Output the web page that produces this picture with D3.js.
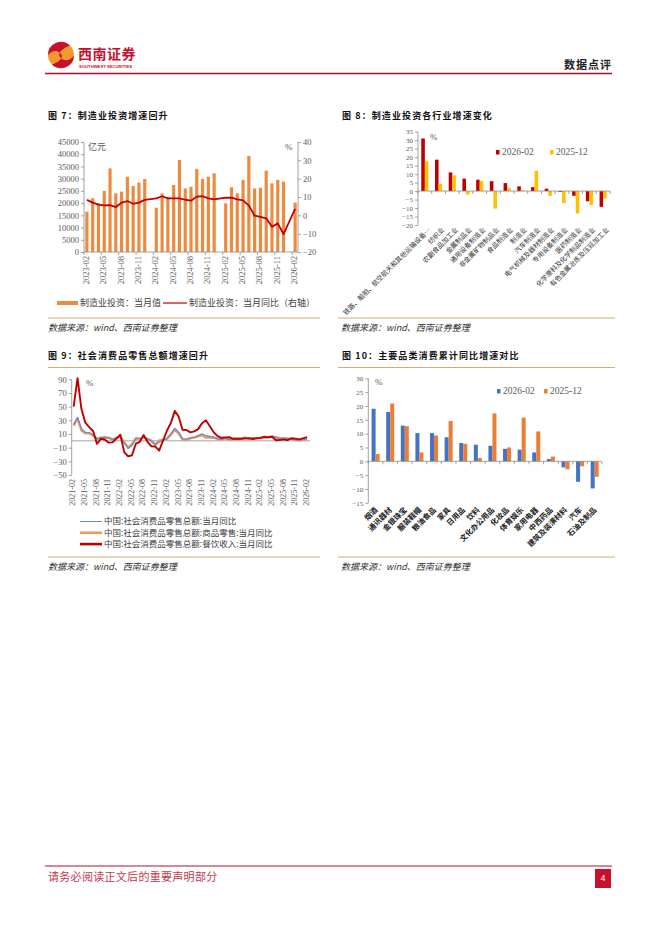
<!DOCTYPE html>
<html><head><meta charset="utf-8">
<script src="https://cdn.jsdelivr.net/npm/d3@7"></script>
<style>body{margin:0;background:#fff}svg{display:block}</style>
</head><body>
<svg id="page" width="662" height="936"></svg>
<script>
// ---------- DATA ----------
// Figure 7: manufacturing investment (monthly value, 100m yuan) and YoY (%)
const c7Months = ["2023-02","2023-03","2023-04","2023-05","2023-06","2023-07","2023-08","2023-09","2023-10","2023-11","2023-12",
  "2024-01","2024-02","2024-03","2024-04","2024-05","2024-06","2024-07","2024-08","2024-09","2024-10","2024-11","2024-12",
  "2025-01","2025-02","2025-03","2025-04","2025-05","2025-06","2025-07","2025-08","2025-09","2025-10","2025-11","2025-12",
  "2026-01","2026-02"];
const c7Value = [16500,22000,19900,25000,34200,24000,24700,30800,27000,28400,29900,
  null,18100,24000,22500,27400,37600,26000,26700,34000,29900,30800,32200,
  null,19900,26500,24000,29500,39300,26000,26300,33300,28100,29500,28800,
  null,20200];
const c7Yoy = [8.4,6.9,5.8,5.4,5.6,4.5,6.9,7.8,6.3,6.9,8.4,
  null,9.3,10.4,9.3,9.3,9.3,8.5,8.0,10.2,10.4,9.3,8.7,
  null,9.6,9.6,8.7,8.2,5.3,-0.2,-0.9,-1.6,-6.2,-4.4,-10.2,
  null,3.5];
const c7TickLeft = [0,5000,10000,15000,20000,25000,30000,35000,40000,45000];
const c7TickRight = [-20,-10,0,10,20,30,40];
const c7Legend = ["制造业投资：当月值","制造业投资：当月同比（右轴）"];

// Figure 8: manufacturing investment growth by industry (%)
const c8Cats = ["铁路、船舶、航空航天和其他运输设备…","纺织业","农副食品加工业","金属制品业","通用设备制造业",
  "非金属矿物制品业","食品制造业","制造业","汽车制造业","电气机械及器材制造业","专用设备制造业","医药制造业",
  "化学原料及化学制品制造业","有色金属冶炼及压延加工业"];
const c8Feb26 = [31.0,18.5,11.0,7.3,6.7,5.8,4.7,2.8,2.3,1.4,-0.5,-2.8,-6.0,-9.3];
const c8Dec25 = [17.5,4.3,9.2,-2.0,6.0,-10.3,2.0,0.6,12.0,-2.8,-7.0,-13.2,-8.2,-4.3];
const c8Ticks = [-20,-15,-10,-5,0,5,10,15,20,25,30,35];
const c8Legend = ["2026-02","2025-12"];

// Figure 9: retail sales YoY (%)
const c9Months = ["2021-02","2021-03","2021-04","2021-05","2021-06","2021-07","2021-08","2021-09","2021-10","2021-11","2021-12",
  "2022-01","2022-02","2022-03","2022-04","2022-05","2022-06","2022-07","2022-08","2022-09","2022-10","2022-11","2022-12",
  "2023-01","2023-02","2023-03","2023-04","2023-05","2023-06","2023-07","2023-08","2023-09","2023-10","2023-11","2023-12",
  "2024-01","2024-02","2024-03","2024-04","2024-05","2024-06","2024-07","2024-08","2024-09","2024-10","2024-11","2024-12",
  "2025-01","2025-02","2025-03","2025-04","2025-05","2025-06","2025-07","2025-08","2025-09","2025-10","2025-11","2025-12",
  "2026-01","2026-02"];
const c9Total = [24,34.2,17.7,12.4,12.1,8.5,2.5,4.4,4.9,3.9,1.7,
  null,6.7,-3.5,-11.1,-6.7,3.1,2.7,5.4,2.5,-0.5,-5.9,-1.8,
  null,3.5,10.6,18.4,12.7,3.1,2.5,4.6,5.5,7.6,10.1,7.4,
  null,5.5,3.1,2.3,3.7,2.0,2.7,2.1,3.2,4.8,3.0,3.7,
  null,4.0,5.9,5.1,6.4,4.8,3.7,3.4,3.0,2.9,1.3,0.9,
  null,2.8];
const c9Goods = [22,32.8,15.1,10.9,11.1,7.9,3.3,4.5,5.2,4.7,2.1,
  null,6.5,-1.9,-9.7,-5.0,4.0,3.2,5.1,3.0,0.5,-5.6,0.5,
  null,2.9,9.1,15.9,10.5,1.7,1.0,3.7,4.6,6.5,8.0,4.8,
  null,4.6,2.7,2.0,3.6,1.6,2.7,2.0,3.3,5.0,2.8,3.9,
  null,3.9,5.9,5.1,6.5,5.3,4.0,3.6,3.3,2.8,1.0,0.7,
  null,2.5];
const c9Catering = [50,91.6,46.4,26.6,20.0,14.3,-4.5,3.1,2.0,-2.7,-2.2,
  null,8.9,-16.4,-22.7,-21.1,-4.0,-1.5,8.4,-1.7,-8.1,-8.4,-14.1,
  null,15.1,26.3,43.8,35.1,16.1,15.8,12.4,13.8,17.1,25.8,30.0,
  null,12.5,6.9,4.4,5.0,5.4,3.0,3.3,3.1,3.2,4.0,2.7,
  null,4.3,5.6,5.2,5.9,0.9,1.1,2.1,0.9,3.8,3.2,2.2,
  null,5.5];
const c9Ticks = [-50,-30,-10,10,30,50,70,90];
const c9Legend = ["中国:社会消费品零售总额:当月同比","中国:社会消费品零售总额:商品零售:当月同比","中国:社会消费品零售总额:餐饮收入:当月同比"];

// Figure 10: cumulative YoY by category (%)
const c10Cats = ["烟酒","通讯器材","金银珠宝","服装鞋帽","粮油食品","家具","日用品","饮料","文化办公用品","化妆品",
  "体育娱乐","家用电器","中西药品","建筑及装潢材料","汽车","石油及制品"];
const c10Feb26 = [19.0,17.8,12.9,10.2,10.2,8.7,6.6,6.0,5.6,4.5,4.2,3.2,0.8,-2.2,-7.4,-9.8];
const c10Dec25 = [2.6,20.9,12.7,3.2,9.3,14.6,6.3,1.2,17.3,5.0,15.8,10.8,1.7,-2.9,-1.8,-5.6];
const c10Ticks = [-15,-10,-5,0,5,10,15,20,25,30];
const c10Legend = ["2026-02","2025-12"];

// ---------- STYLE ----------
const CJK = '"Noto Sans CJK SC","Noto Sans",sans-serif';
const SERIF = '"Liberation Serif","Times New Roman",serif';
const AXIS = '#8c8c8c', TXT = '#595959', GOLD = '#CFAE72';
const svg = d3.select('#page');

function hline(x1, x2, y, color, w) {
  svg.append('line').attr('x1', x1).attr('x2', x2).attr('y1', y).attr('y2', y)
    .attr('stroke', color).attr('stroke-width', w);
}
function text(x, y, s, o) {
  o = o || {};
  const t = svg.append('text').attr('x', x).attr('y', y).text(s)
    .attr('font-family', o.ff || CJK).attr('font-size', o.fs || 9)
    .attr('fill', o.fill || '#000').attr('dominant-baseline', 'middle')
    .attr('text-anchor', o.anchor || 'start');
  if (o.fw) t.attr('font-weight', o.fw);
  if (o.ls) t.attr('letter-spacing', o.ls);
  if (o.italic) t.attr('font-style', 'italic');
  return t;
}
function yAxis(scale, ticks, x, side, fs, fmt) {
  const ax = (side === 'left' ? d3.axisLeft(scale) : d3.axisRight(scale))
    .tickValues(ticks).tickSize(3).tickPadding(2).tickFormat(fmt || (d => d < 0 ? '−' + Math.abs(d) : d));
  const g = svg.append('g').attr('transform', `translate(${x},0)`).call(ax);
  g.selectAll('path,line').attr('stroke', AXIS).attr('stroke-width', 0.8);
  g.select('.domain').attr('d', `M0,${scale.range()[0]}V${scale.range()[1]}`);
  g.selectAll('text').attr('font-family', SERIF).attr('font-size', fs).attr('fill', TXT);
  return g;
}

// ---------- HEADER ----------
const logo = svg.append('g').attr('transform', 'translate(61,55)');
logo.append('circle').attr('r', 13).attr('fill', '#F29A2E');
logo.append('path').attr('d', 'M-13,0 A13,13 0 0 1 9,-9.5 C2,-7 -4,-2 -1,2 C3,7 8,6 13,1 A13,13 0 0 1 -9,9.5 C-2,7 3,3 0,-1 C-4,-6 -9,-4 -13,0 Z')
  .attr('fill', '#C8102E');
text(78, 55, '西南证券', {fs: 14, fw: 700, fill: '#C8102E', ls: 0.5});
text(79, 66.5, 'SOUTHWEST SECURITIES', {ff: 'Liberation Sans', fs: 4.2, fill: '#C8102E', fw: 700});
text(612, 66, '数据点评', {fs: 11, fw: 700, fill: '#222', anchor: 'end', ls: 1});
hline(45, 612, 73.5, '#A8102A', 1.3);

// ---------- FOOTER ----------
hline(45, 612, 866, '#B0102C', 1);
text(48, 878, '请务必阅读正文后的重要声明部分', {fs: 11, fill: '#C0394E', ls: 0.3});
svg.append('rect').attr('x', 595).attr('y', 869).attr('width', 16).attr('height', 19).attr('fill', '#C8102E');
text(603, 879, '4', {ff: 'Liberation Sans', fs: 9, fill: '#fff', anchor: 'middle'});

// ---------- TITLES / SOURCES ----------
const titleOpt = {fs: 9, fw: 700, fill: '#111', ls: 1.1};
text(48, 117, '图 7：制造业投资增速回升', titleOpt);
text(342, 117, '图 8：制造业投资各行业增速变化', titleOpt);
text(48, 357, '图 9：社会消费品零售总额增速回升', titleOpt);
text(342, 357, '图 10：主要品类消费累计同比增速对比', titleOpt);
hline(48, 320, 367.5, GOLD, 1);
hline(338, 615, 367.5, GOLD, 1);
hline(48, 320, 318, GOLD, 1);
hline(338, 615, 318, GOLD, 1);
hline(48, 320, 557, GOLD, 1);
hline(338, 615, 557, GOLD, 1);
const srcOpt = {fs: 9, fill: '#333', italic: true};
text(48, 329, '数据来源：wind、西南证券整理', srcOpt);
text(341, 329, '数据来源：wind、西南证券整理', srcOpt);
text(48, 568, '数据来源：wind、西南证券整理', srcOpt);
text(341, 568, '数据来源：wind、西南证券整理', srcOpt);

// ---------- FIGURE 7 ----------
{
  const x = d3.scaleBand().domain(c7Months).range([84, 298]).paddingInner(0.45).paddingOuter(0.225);
  const yL = d3.scaleLinear().domain([0, 45000]).range([252, 142]);
  const yR = d3.scaleLinear().domain([-20, 40]).range([252, 142]);
  const rows = c7Months.map((m, i) => ({m, v: c7Value[i], y: c7Yoy[i]}));
  svg.append('g').selectAll('rect').data(rows.filter(d => d.v != null)).join('rect')
    .attr('x', d => x(d.m)).attr('width', x.bandwidth())
    .attr('y', d => yL(d.v)).attr('height', d => yL(0) - yL(d.v)).attr('fill', '#EC8A3F');
  yAxis(yL, c7TickLeft, 84, 'left', 8.5, d => d);
  yAxis(yR, c7TickRight, 298, 'right', 8.5);
  hline(84, 298, 252, AXIS, 0.8);
  const gap = (x.step() - x.bandwidth()) / 2;
  const lab = c7Months.filter((m, i) => i % 3 === 0);
  svg.append('g').selectAll('line').data(lab).join('line')
    .attr('x1', d => x(d) - gap).attr('x2', d => x(d) - gap).attr('y1', 252).attr('y2', 255)
    .attr('stroke', AXIS).attr('stroke-width', 0.8);
  svg.append('g').selectAll('text').data(lab).join('text')
    .attr('transform', d => `translate(${x(d) + x.bandwidth() / 2},256) rotate(-90)`)
    .attr('text-anchor', 'end').attr('dominant-baseline', 'middle')
    .attr('font-family', SERIF).attr('font-size', 8.5).attr('fill', TXT).text(d => d);
  const line = d3.line().x(d => x(d.m) + x.bandwidth() / 2).y(d => yR(d.y));
  svg.append('path').datum(rows.filter(d => d.y != null)).attr('d', line)
    .attr('fill', 'none').attr('stroke', '#C00000').attr('stroke-width', 1.8).attr('stroke-linejoin', 'round');
  text(88, 148, '亿元', {fs: 9, fill: TXT});
  text(285, 148, '%', {ff: SERIF, fs: 9, fill: TXT});
  svg.append('rect').attr('x', 57).attr('y', 301).attr('width', 21).attr('height', 4).attr('fill', '#EC8A3F');
  text(80, 303.5, c7Legend[0], {fs: 9, fill: '#404040'});
  hline(163, 187, 303, '#C00000', 1.2);
  text(189, 303.5, c7Legend[1], {fs: 9, fill: '#404040'});
}

// ---------- FIGURE 8 ----------
{
  const x = d3.scaleBand().domain(c8Cats).range([418, 610]);
  const sub = d3.scaleBand().domain(['a', 'b']).range([0, x.bandwidth()]).paddingOuter(0.92);
  const y = d3.scaleLinear().domain([-20, 35]).range([225, 131.7]);
  const rows = c8Cats.map((c, i) => ({c, a: c8Feb26[i], b: c8Dec25[i]}));
  const g = svg.append('g');
  g.selectAll('rect.a').data(rows).join('rect').attr('class', 'a')
    .attr('x', d => x(d.c) + sub('a')).attr('width', sub.bandwidth())
    .attr('y', d => y(Math.max(0, d.a))).attr('height', d => Math.abs(y(d.a) - y(0))).attr('fill', '#C00000');
  g.selectAll('rect.b').data(rows).join('rect').attr('class', 'b')
    .attr('x', d => x(d.c) + sub('b')).attr('width', sub.bandwidth())
    .attr('y', d => y(Math.max(0, d.b))).attr('height', d => Math.abs(y(d.b) - y(0))).attr('fill', '#FFC000');
  yAxis(y, c8Ticks, 418, 'left', 7);
  hline(418, 610, y(0), AXIS, 0.8);
  svg.append('g').selectAll('line').data(c8Cats.concat(['__end'])).join('line')
    .attr('x1', (d, i) => 418 + i * x.step()).attr('x2', (d, i) => 418 + i * x.step())
    .attr('y1', y(0)).attr('y2', y(0) + 3).attr('stroke', AXIS).attr('stroke-width', 0.8);
  svg.append('g').selectAll('text').data(c8Cats).join('text')
    .attr('transform', d => `translate(${x(d) + x.bandwidth() / 2 + 5},229) rotate(-45)`)
    .attr('text-anchor', 'end').attr('dominant-baseline', 'middle')
    .attr('font-family', CJK).attr('font-size', 6.7).attr('fill', '#333').text(d => d);
  text(430, 138, '%', {ff: SERIF, fs: 9, fill: TXT});
  svg.append('rect').attr('x', 496).attr('y', 150).attr('width', 3.5).attr('height', 4.5).attr('fill', '#C00000');
  text(502, 152.5, c8Legend[0], {ff: SERIF, fs: 9.5, fill: TXT});
  svg.append('rect').attr('x', 550).attr('y', 150).attr('width', 3.5).attr('height', 4.5).attr('fill', '#FFC000');
  text(556, 152.5, c8Legend[1], {ff: SERIF, fs: 9.5, fill: TXT});
}

// ---------- FIGURE 9 ----------
{
  const x = d3.scaleBand().domain(c9Months).range([71.7, 309]);
  const y = d3.scaleLinear().domain([-50, 90]).range([475, 379.3]);
  yAxis(y, c9Ticks, 71.7, 'left', 8.5);
  hline(71.7, 310, y(0), AXIS, 0.8);
  const lab = c9Months.filter((m, i) => i % 3 === 0);
  svg.append('g').selectAll('text').data(lab).join('text')
    .attr('transform', d => `translate(${x(d) + x.bandwidth() / 2},479) rotate(-90)`)
    .attr('text-anchor', 'end').attr('dominant-baseline', 'middle')
    .attr('font-family', SERIF).attr('font-size', 8).attr('fill', TXT).text(d => d);
  const series = [
    {v: c9Goods, color: '#EE9A62', w: 2.4},
    {v: c9Total, color: '#6A8FC7', w: 1.3},
    {v: c9Catering, color: '#C00000', w: 1.9}
  ];
  const line = d3.line().x(d => x(d.m) + x.bandwidth() / 2).y(d => y(d.v));
  series.forEach(s => {
    const pts = c9Months.map((m, i) => ({m, v: s.v[i]})).filter(d => d.v != null);
    svg.append('path').datum(pts).attr('d', line).attr('fill', 'none')
      .attr('stroke', s.color).attr('stroke-width', s.w).attr('stroke-linejoin', 'round');
  });
  text(86, 384, '%', {ff: SERIF, fs: 9, fill: TXT});
  const lg = [{c: '#6A8FC7', w: 1}, {c: '#EE9A62', w: 2.6}, {c: '#C00000', w: 2.6}];
  const ly = [521.5, 532.8, 544.1];
  lg.forEach((l, i) => {
    hline(80, 102, ly[i], l.c, l.w);
    text(104, ly[i] + 0.5, c9Legend[i], {fs: 8.5, fill: '#404040'});
  });
}

// ---------- FIGURE 10 ----------
{
  const x = d3.scaleBand().domain(c10Cats).range([368.3, 602]);
  const sub = d3.scaleBand().domain(['a', 'b']).range([0, x.bandwidth()]).paddingOuter(0.82);
  const y = d3.scaleLinear().domain([-15, 30]).range([502.8, 378.3]);
  const rows = c10Cats.map((c, i) => ({c, a: c10Feb26[i], b: c10Dec25[i]}));
  const g = svg.append('g');
  g.selectAll('rect.a').data(rows).join('rect').attr('class', 'a')
    .attr('x', d => x(d.c) + sub('a')).attr('width', sub.bandwidth())
    .attr('y', d => y(Math.max(0, d.a))).attr('height', d => Math.abs(y(d.a) - y(0))).attr('fill', '#4472C4');
  g.selectAll('rect.b').data(rows).join('rect').attr('class', 'b')
    .attr('x', d => x(d.c) + sub('b')).attr('width', sub.bandwidth())
    .attr('y', d => y(Math.max(0, d.b))).attr('height', d => Math.abs(y(d.b) - y(0))).attr('fill', '#ED7D31');
  yAxis(y, c10Ticks, 368.3, 'left', 7);
  hline(368.3, 602, y(0), AXIS, 0.8);
  svg.append('g').selectAll('line').data(c10Cats.concat(['__end'])).join('line')
    .attr('x1', (d, i) => 368.3 + i * x.step()).attr('x2', (d, i) => 368.3 + i * x.step())
    .attr('y1', y(0)).attr('y2', y(0) + 3).attr('stroke', AXIS).attr('stroke-width', 0.8);
  svg.append('g').selectAll('text').data(c10Cats).join('text')
    .attr('transform', d => `translate(${x(d) + x.bandwidth() / 2 + 1},509) rotate(-45)`)
    .attr('text-anchor', 'end').attr('dominant-baseline', 'middle')
    .attr('font-family', CJK).attr('font-size', 7.5).attr('font-weight', 700).attr('fill', '#222').text(d => d);
  text(375, 383, '%', {ff: SERIF, fs: 9, fill: TXT});
  svg.append('rect').attr('x', 497).attr('y', 389).attr('width', 3.5).attr('height', 4.5).attr('fill', '#4472C4');
  text(503, 391.5, c10Legend[0], {ff: SERIF, fs: 9.5, fill: TXT});
  svg.append('rect').attr('x', 544).attr('y', 389).attr('width', 3.5).attr('height', 4.5).attr('fill', '#ED7D31');
  text(550, 391.5, c10Legend[1], {ff: SERIF, fs: 9.5, fill: TXT});
}
</script>
</body></html>
